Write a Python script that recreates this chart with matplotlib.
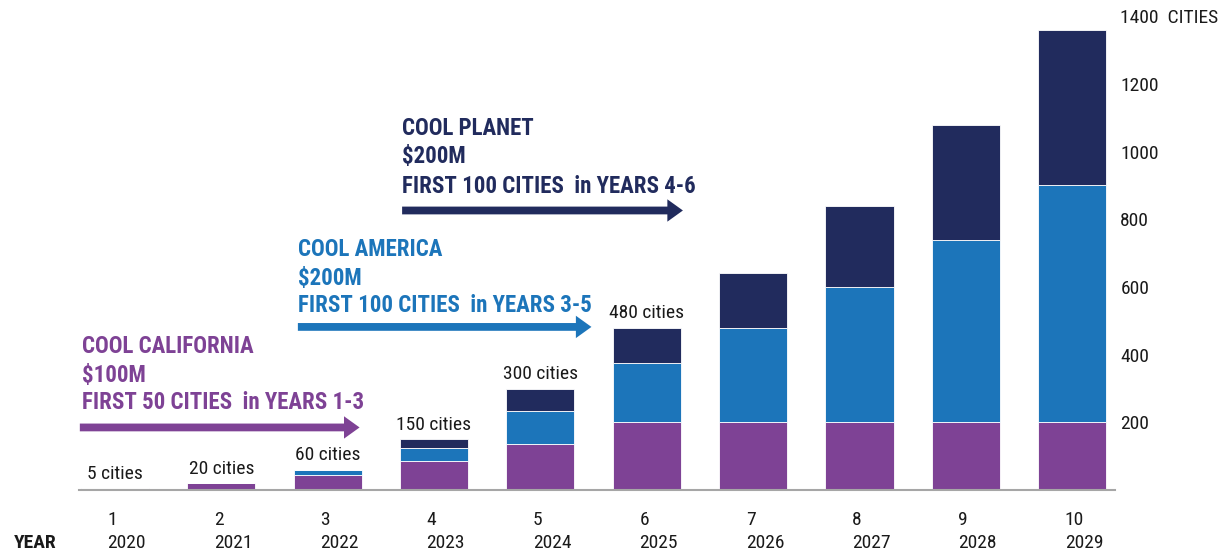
import matplotlib
matplotlib.use("Agg")
import matplotlib.pyplot as plt
from matplotlib import font_manager

# ---------------- data ----------------
years_idx = ["1", "2", "3", "4", "5", "6", "7", "8", "9", "10"]
years = ["2020", "2021", "2022", "2023", "2024", "2025", "2026", "2027", "2028", "2029"]
california = [5, 20, 45, 85, 135, 200, 200, 200, 200, 200]
america = [0, 0, 15, 40, 100, 175, 280, 400, 540, 700]
planet = [0, 0, 0, 25, 65, 105, 160, 240, 340, 460]
bar_labels = ["5 cities", "20 cities", "60 cities", "150 cities", "300 cities", "480 cities"]
yticks = [200, 400, 600, 800, 1000, 1200, 1400]
ytick_labels = ["200", "400", "600", "800", "1000", "1200", "1400  CITIES"]

C_PURPLE = "#7E4295"
C_BLUE = "#1C75BA"
C_NAVY = "#212B5D"
C_TEXT = "#1a1a1a"

# ---------- pick a condensed font if one is available ----------
entries = font_manager.fontManager.ttflist
names = {f.name for f in entries}
FAMILY = None
STRETCH = "normal"
for cand in ["Roboto Condensed", "Open Sans Condensed", "Liberation Sans Narrow",
             "Noto Sans Condensed", "Arial Narrow"]:
    if cand in names:
        FAMILY = cand
        break
if FAMILY is None:
    if any(f.name == "DejaVu Sans" and str(f.stretch) in ("condensed", "semi-condensed", "500")
           for f in entries):
        FAMILY = "DejaVu Sans"
        STRETCH = "condensed"
    else:
        FAMILY = "Roboto"
plt.rcParams["font.family"] = [FAMILY, "DejaVu Sans"]
plt.rcParams["font.stretch"] = STRETCH

fig = plt.figure(figsize=(12.25, 5.55), dpi=100)
ax = fig.add_axes([0.0643, 0.117, 0.9100 - 0.0643, 0.983 - 0.117])

x = list(range(len(years)))
w = 0.64
b2 = [c for c in california]
b3 = [c + a for c, a in zip(california, america)]
ax.bar(x, california, w, color=C_PURPLE, edgecolor="white", linewidth=0.6)
ax.bar(x, america, w, bottom=b2, color=C_BLUE, edgecolor="white", linewidth=0.6)
ax.bar(x, planet, w, bottom=b3, color=C_NAVY, edgecolor="white", linewidth=0.6)

FS = 14
HFS = 16.5
totals = [c + a + p for c, a, p in zip(california, america, planet)]
for i, lab in enumerate(bar_labels):
    ax.text(x[i], totals[i] + 16, lab, ha="center", va="bottom", fontsize=FS, color=C_TEXT,
            fontstretch=STRETCH)

ax.set_xlim(-0.34, 9.4)
ax.set_ylim(0, 1420)

# axes styling
for s in ["top", "left", "right"]:
    ax.spines[s].set_visible(False)
ax.spines["bottom"].set_color("#A6A6A6")
ax.spines["bottom"].set_linewidth(1.5)
ax.set_xticks([])
ax.yaxis.tick_right()
ax.set_yticks(yticks)
ax.set_yticklabels(ytick_labels)
ax.tick_params(axis="y", length=0, pad=4, labelsize=FS, labelcolor=C_TEXT)
for t in ax.get_yticklabels():
    t.set_horizontalalignment("left")
    t.set_fontstretch(STRETCH)

# x labels
for i in x:
    ax.text(i - 0.07, -89, years_idx[i], ha="left", va="center", fontsize=FS, color=C_TEXT,
            clip_on=False, fontstretch=STRETCH)
    ax.text(i - 0.07, -157, years[i], ha="left", va="center", fontsize=FS, color=C_TEXT,
            clip_on=False, fontstretch=STRETCH)
ax.text(-0.95, -157, "YEAR", ha="left", va="center", fontsize=FS, fontweight="bold", color=C_TEXT,
        clip_on=False, fontstretch=STRETCH)

# program annotations
programs = [
    (["COOL CALIFORNIA", "$100M", "FIRST 50 CITIES  in YEARS 1-3"], C_PURPLE, -0.31, [424, 338, 259], (-0.33, 2.30), 185),
    (["COOL AMERICA", "$200M", "FIRST 100 CITIES  in YEARS 3-5"], C_BLUE, 1.72, [712, 626, 544], (1.72, 4.48), 482),
    (["COOL PLANET", "$200M", "FIRST 100 CITIES  in YEARS 4-6"], C_NAVY, 2.70, [1068, 985, 897], (2.70, 5.34), 826),
]
for lines, col, tx, tys, (xa, xb), ya in programs:
    for line, ty in zip(lines, tys):
        ax.text(tx, ty, line, ha="left", va="center", fontsize=HFS, fontweight="bold", color=col,
                fontstretch=STRETCH)
    ax.annotate("", xy=(xb, ya), xytext=(xa, ya),
                arrowprops=dict(arrowstyle="simple,head_length=0.8,head_width=1.15,tail_width=0.4",
                                mutation_scale=14, color=col, shrinkA=0, shrinkB=0, lw=0))

fig.savefig("out.png", dpi=100)
